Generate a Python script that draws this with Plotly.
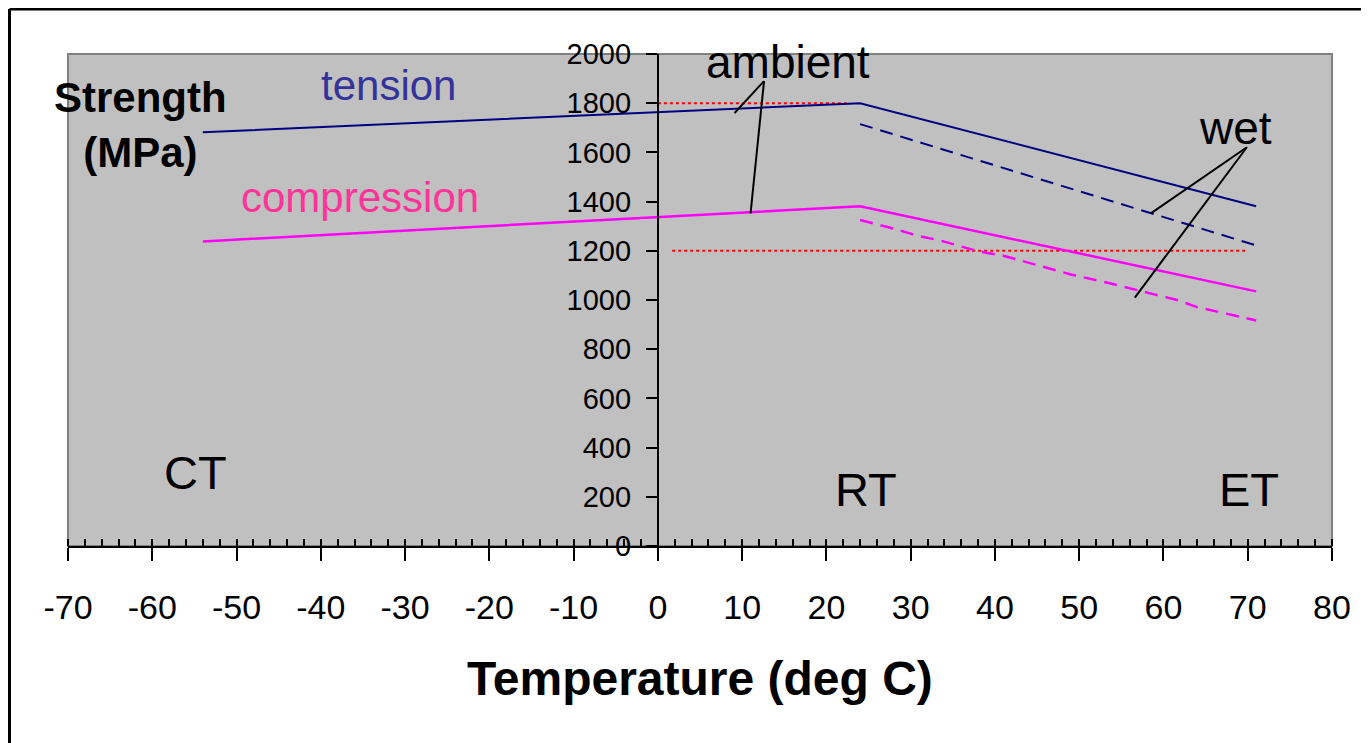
import plotly.graph_objects as go

# ---- data ----
temp_amb = [-54, 24, 71]
tension_amb = [1682, 1800, 1381]
compression_amb = [1238, 1381, 1035]

temp_wet_t = [24, 71]
tension_wet = [1715, 1222]

temp_wet_c = [24, 28, 31, 33.5, 38, 41, 49, 52, 53.5, 59, 61.5, 64, 71]
compression_wet = [1325, 1290, 1260, 1242, 1198, 1180, 1104, 1081, 1069, 1022, 1001, 971, 917]

ref_hi_x = [0, 22.5]
ref_hi_y = [1800, 1800]
ref_lo_x = [1.7, 70]
ref_lo_y = [1200, 1200]

# pointer lines (apex, end) in data coords
amb_apex = (12.6, 1890)
amb_ends = [(9.1, 1760), (11.0, 1352)]
wet_apex = (69.9, 1621)
wet_ends = [(58.5, 1352), (56.6, 1010)]

x_ticks = list(range(-70, 81, 10))
y_ticks = list(range(0, 2001, 200))

FONT = "Arial, Liberation Sans, sans-serif"

W, H = 1361, 736
ML, MT, MR, MB = 60, 46, 37, 198
PW = W - ML - MR
PH = H - MT - MB

fig = go.Figure()

fig.add_trace(go.Scatter(x=ref_hi_x, y=ref_hi_y, mode="lines",
                         line=dict(color="#FF0000", width=2, dash="dot"), showlegend=False))
fig.add_trace(go.Scatter(x=ref_lo_x, y=ref_lo_y, mode="lines",
                         line=dict(color="#FF0000", width=2, dash="dot"), showlegend=False))
fig.add_trace(go.Scatter(x=temp_amb, y=tension_amb, mode="lines",
                         line=dict(color="#000080", width=2), showlegend=False))
fig.add_trace(go.Scatter(x=temp_wet_t, y=tension_wet, mode="lines",
                         line=dict(color="#000080", width=2, dash="13px,8px"), showlegend=False))
fig.add_trace(go.Scatter(x=temp_amb, y=compression_amb, mode="lines",
                         line=dict(color="#FF00FF", width=2.5), showlegend=False))
fig.add_trace(go.Scatter(x=temp_wet_c, y=compression_wet, mode="lines",
                         line=dict(color="#FF00FF", width=2.5, dash="13px,8px"), showlegend=False))

shapes = []
for apex, ends in [(amb_apex, amb_ends), (wet_apex, wet_ends)]:
    for e in ends:
        shapes.append(dict(type="line", xref="x", yref="y", x0=apex[0], y0=apex[1],
                           x1=e[0], y1=e[1], line=dict(color="black", width=2)))
# outer chart border (top and left visible)
bx = (1.5 - ML) / PW
by = (H - MB - 1.0) / PH
shapes.append(dict(type="line", xref="paper", yref="paper", x0=bx, y0=by,
                   x1=1.3, y1=by, line=dict(color="black", width=3)))
shapes.append(dict(type="line", xref="paper", yref="paper", x0=bx, y0=by,
                   x1=bx, y1=-0.8, line=dict(color="black", width=3)))
# plot-area border
shapes.append(dict(type="rect", xref="paper", yref="paper", x0=0, y0=0, x1=1, y1=1,
                   line=dict(color="#808080", width=2), layer="below"))

annotations = [
    dict(x=-32.0, y=1874, text="tension", font=dict(size=42, color="#333399")),
    dict(x=-35.4, y=1417, text="compression", font=dict(size=42, color="#FF3399")),
    dict(x=15.4, y=1967, text="ambient", font=dict(size=46, color="black")),
    dict(x=68.6, y=1699, text="wet", font=dict(size=46, color="black")),
    dict(x=-54.9, y=297, text="CT", font=dict(size=47, color="black")),
    dict(x=24.7, y=228, text="RT", font=dict(size=47, color="black")),
    dict(x=70.1, y=228, text="ET", font=dict(size=47, color="black")),
    dict(x=-61.4, y=1710, text="<b>Strength</b><br><b>(MPa)</b>", font=dict(size=42, color="black")),
]
for a in annotations:
    a.update(xref="x", yref="y", showarrow=False, xanchor="center", yanchor="middle")
    a["font"]["family"] = FONT
annotations.append(dict(xref="paper", yref="paper", x=0.5, y=-0.27, xanchor="center",
                        yanchor="middle", showarrow=False, text="<b>Temperature (deg C)</b>",
                        font=dict(family=FONT, size=48, color="black")))

fig.update_layout(
    width=W, height=H,
    margin=dict(l=ML, r=MR, t=MT, b=MB),
    paper_bgcolor="white", plot_bgcolor="#C0C0C0",
    font=dict(family=FONT, color="black"),
    shapes=shapes, annotations=annotations,
    xaxis=dict(range=[-70, 80], tickvals=x_ticks, ticktext=[str(v) for v in x_ticks],
               ticks="outside", ticklen=13, tickwidth=2, tickcolor="black",
               showline=True, linecolor="black", linewidth=2,
               showgrid=False, zeroline=False, tickfont=dict(size=34, color="black"),
               ticklabelstandoff=17,
               minor=dict(ticks="inside", ticklen=7, tickwidth=2, tickcolor="black", dtick=2, showgrid=False)),
    yaxis=dict(range=[0, 2000], tickvals=y_ticks, ticktext=[str(v) for v in y_ticks],
               anchor="free", position=70/150,
               ticks="outside", ticklen=11, tickwidth=2, tickcolor="black",
               showline=True, linecolor="black", linewidth=2,
               showgrid=False, zeroline=False, tickfont=dict(size=29, color="black"),
               ticklabelstandoff=9),
)

fig.write_html("out.html")
